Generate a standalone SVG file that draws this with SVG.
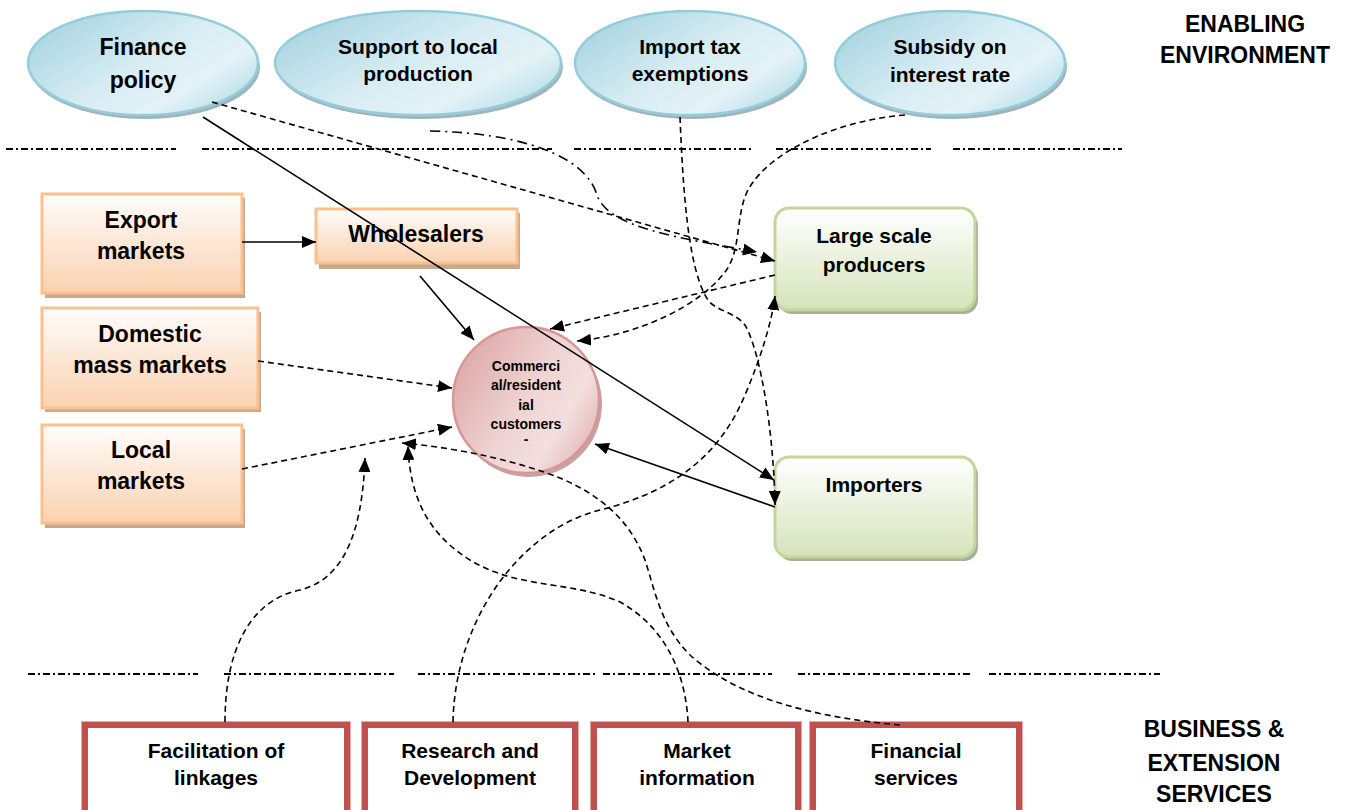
<svg xmlns="http://www.w3.org/2000/svg" width="1351" height="810" viewBox="0 0 1351 810">
  <defs>
    <linearGradient id="blueFill" x1="0" y1="0.15" x2="1" y2="0.85">
      <stop offset="0" stop-color="#a4d3e0"/>
      <stop offset="0.5" stop-color="#d8edf3"/>
      <stop offset="0.75" stop-color="#e3f2f7"/>
      <stop offset="1" stop-color="#b2dbe6"/>
    </linearGradient>
    <linearGradient id="orangeFill" x1="0" y1="0" x2="0" y2="1">
      <stop offset="0" stop-color="#fffdfb"/>
      <stop offset="0.45" stop-color="#fde9d9"/>
      <stop offset="1" stop-color="#fad2b0"/>
    </linearGradient>
    <linearGradient id="greenFill" x1="0" y1="0" x2="0" y2="1">
      <stop offset="0" stop-color="#ffffff"/>
      <stop offset="1" stop-color="#d5e3b9"/>
    </linearGradient>
    <linearGradient id="pinkFill" x1="0" y1="0.2" x2="1" y2="0.8">
      <stop offset="0" stop-color="#dba6a5"/>
      <stop offset="0.5" stop-color="#efd4d3"/>
      <stop offset="0.75" stop-color="#f3dfde"/>
      <stop offset="1" stop-color="#e1b4b3"/>
    </linearGradient>
    <marker id="arrow" markerUnits="userSpaceOnUse" markerWidth="14" markerHeight="12" refX="14" refY="6" orient="auto">
      <path d="M0,0 L14,6 L0,12 z" fill="#000"/>
    </marker>
    <style>
      .lbl { font-family: "Liberation Sans", Arial, sans-serif; font-weight: bold; fill: #000; text-anchor: middle; }
      .f23 { font-size: 23px; }
      .f21 { font-size: 21px; }
      .f14 { font-size: 14px; }
      .sep { stroke: #000; stroke-width: 2; stroke-dasharray: 7 3 2 3; fill: none; }
      .oval { fill: url(#blueFill); stroke: #93cddd; stroke-width: 2.5; }
      .ovalShadow { fill: #a3b4b9; }
      .orange { fill: url(#orangeFill); stroke: #fac090; stroke-width: 3; }
      .orangeShadow { fill: #c9a98d; }
      .green { fill: url(#greenFill); stroke: #c3d69b; stroke-width: 3; }
      .greenShadow { fill: #a9ae9e; }
      .red { fill: #ffffff; stroke: #c0504d; stroke-width: 6; }
      .redEdge { fill: none; stroke: #e3a9a7; stroke-width: 1; }
      .solid { stroke: #000; stroke-width: 1.6; fill: none; }
      .dash { stroke: #000; stroke-width: 1.6; fill: none; stroke-dasharray: 6 4; }
      .dashdot { stroke: #000; stroke-width: 1.6; fill: none; stroke-dasharray: 10 5 2 5; }
    </style>
  </defs>

  <rect width="1351" height="810" fill="#ffffff"/>

  <!-- tier separators -->
  <g id="separators">
    <path class="sep" d="M6,149 H176 M202,149 H552 M574,149 H754 M776,149 H931 M953,149 H1122"/>
    <path class="sep" d="M28,674 H198 M224,674 H394 M418,674 H597 M603,674 H772 M798,674 H970 M989,674 H1160"/>
  </g>

  <!-- tier titles -->
  <g id="title-enabling">
    <text class="lbl f23" x="1245" y="32">ENABLING</text>
    <text class="lbl f23" x="1245" y="63">ENVIRONMENT</text>
  </g>
  <g id="title-business">
    <text class="lbl f23" x="1214" y="737">BUSINESS &amp;</text>
    <text class="lbl f23" x="1214" y="771">EXTENSION</text>
    <text class="lbl f23" x="1214" y="802">SERVICES</text>
  </g>

  <!-- enabling environment ovals -->
  <g id="finance-policy">
    <ellipse class="ovalShadow" cx="145" cy="67" rx="115" ry="52"/>
    <ellipse class="oval" cx="143" cy="63" rx="115" ry="52"/>
    <text class="lbl f23" x="143" y="55">Finance</text>
    <text class="lbl f23" x="143" y="88">policy</text>
  </g>
  <g id="support-local-production">
    <ellipse class="ovalShadow" cx="420" cy="67" rx="143" ry="52"/>
    <ellipse class="oval" cx="418" cy="63" rx="143" ry="52"/>
    <text class="lbl f21" x="418" y="54">Support to local</text>
    <text class="lbl f21" x="418" y="81">production</text>
  </g>
  <g id="import-tax-exemptions">
    <ellipse class="ovalShadow" cx="692" cy="67" rx="115" ry="52"/>
    <ellipse class="oval" cx="690" cy="63" rx="115" ry="52"/>
    <text class="lbl f21" x="690" y="54">Import tax</text>
    <text class="lbl f21" x="690" y="81">exemptions</text>
  </g>
  <g id="subsidy-interest-rate">
    <ellipse class="ovalShadow" cx="952" cy="67" rx="115" ry="52"/>
    <ellipse class="oval" cx="950" cy="63" rx="115" ry="52"/>
    <text class="lbl f21" x="950" y="54">Subsidy on</text>
    <text class="lbl f21" x="950" y="82">interest rate</text>
  </g>

  <!-- markets -->
  <g id="export-markets">
    <rect class="orangeShadow" x="45" y="198" width="200" height="100"/>
    <rect class="orange" x="42" y="194" width="200" height="99"/>
    <text class="lbl f23" x="141" y="228">Export</text>
    <text class="lbl f23" x="141" y="259">markets</text>
  </g>
  <g id="wholesalers">
    <rect class="orangeShadow" x="319" y="213" width="201" height="56"/>
    <rect class="orange" x="316" y="209" width="201" height="54"/>
    <text class="lbl f23" x="416" y="242">Wholesalers</text>
  </g>
  <g id="domestic-mass-markets">
    <rect class="orangeShadow" x="45" y="312" width="216" height="100"/>
    <rect class="orange" x="42" y="308" width="216" height="100"/>
    <text class="lbl f23" x="150" y="342">Domestic</text>
    <text class="lbl f23" x="150" y="373">mass markets</text>
  </g>
  <g id="local-markets">
    <rect class="orangeShadow" x="45" y="429" width="200" height="99"/>
    <rect class="orange" x="42" y="425" width="200" height="98"/>
    <text class="lbl f23" x="141" y="458">Local</text>
    <text class="lbl f23" x="141" y="489">markets</text>
  </g>

  <!-- customers -->
  <g id="customers">
    <circle cx="529" cy="404" r="73" fill="#c4a3a2"/>
    <circle cx="526" cy="400" r="73" fill="url(#pinkFill)" stroke="#d99694" stroke-width="2.5"/>
    <text class="lbl f14" x="526" y="371">Commerci</text>
    <text class="lbl f14" x="526" y="390">al/resident</text>
    <text class="lbl f14" x="526" y="410">ial</text>
    <text class="lbl f14" x="526" y="429">customers</text>
    <text class="lbl f14" x="526" y="444">-</text>
  </g>

  <!-- producers and importers -->
  <g id="large-scale-producers">
    <rect class="greenShadow" x="778" y="212" width="200" height="102" rx="14"/>
    <rect class="green" x="775" y="208" width="200" height="102" rx="14"/>
    <text class="lbl f21" x="874" y="243">Large scale</text>
    <text class="lbl f21" x="874" y="272">producers</text>
  </g>
  <g id="importers">
    <rect class="greenShadow" x="778" y="461" width="200" height="100" rx="14"/>
    <rect class="green" x="775" y="457" width="200" height="100" rx="14"/>
    <text class="lbl f21" x="874" y="492">Importers</text>
  </g>

  <!-- business and extension services -->
  <g id="facilitation-of-linkages">
    <rect class="redEdge" x="81.5" y="721.5" width="269" height="110"/>
    <rect class="red" x="85" y="725" width="262" height="110"/>
    <text class="lbl f21" x="216" y="758">Facilitation of</text>
    <text class="lbl f21" x="216" y="785">linkages</text>
  </g>
  <g id="research-and-development">
    <rect class="redEdge" x="361.5" y="721.5" width="217" height="110"/>
    <rect class="red" x="365" y="725" width="210" height="110"/>
    <text class="lbl f21" x="470" y="758">Research and</text>
    <text class="lbl f21" x="470" y="785">Development</text>
  </g>
  <g id="market-information">
    <rect class="redEdge" x="590.5" y="721.5" width="211" height="110"/>
    <rect class="red" x="594" y="725" width="204" height="110"/>
    <text class="lbl f21" x="697" y="758">Market</text>
    <text class="lbl f21" x="697" y="785">information</text>
  </g>
  <g id="financial-services">
    <rect class="redEdge" x="809.5" y="721.5" width="213" height="110"/>
    <rect class="red" x="813" y="725" width="206" height="110"/>
    <text class="lbl f21" x="916" y="758">Financial</text>
    <text class="lbl f21" x="916" y="785">services</text>
  </g>

  <!-- connectors -->
  <g id="connectors">
    <!-- solid flows -->
    <path class="solid" d="M242,242 L316,242" marker-end="url(#arrow)"/>
    <path class="solid" d="M420,276 L474,340" marker-end="url(#arrow)"/>
    <path class="solid" d="M203,117 L774,480" marker-end="url(#arrow)"/>
    <path class="solid" d="M775,507 L595,444" marker-end="url(#arrow)"/>

    <!-- policy influences -->
    <path class="dash" d="M212,102 L775,261" marker-end="url(#arrow)"/>
    <path class="dashdot" d="M430,131 C520,133 585,155 597,195 C608,228 680,238 757,252" marker-end="url(#arrow)"/>
    <path class="dash" d="M680,117 C683,190 688,270 708,300 C716,311 735,312 745,325 C762,355 774,440 775,505" marker-end="url(#arrow)"/>
    <path class="dash" d="M905,115 C840,120 770,150 748,190 C735,215 742,250 725,272 C700,305 640,335 577,341" marker-end="url(#arrow)"/>

    <!-- market flows into customers -->
    <path class="dash" d="M775,275 L550,329" marker-end="url(#arrow)"/>
    <path class="dash" d="M258,361 L452,388" marker-end="url(#arrow)"/>
    <path class="dash" d="M242,469 L452,427" marker-end="url(#arrow)"/>

    <!-- service links -->
    <path class="dash" d="M225,722 C225,650 250,600 300,590 C340,580 362,540 365,458" marker-end="url(#arrow)"/>
    <path class="dash" d="M453,722 C455,620 520,530 600,510 C680,490 722,450 745,395 C762,355 772,320 775,296" marker-end="url(#arrow)"/>
    <path class="dash" d="M688,722 C686,680 670,630 620,602 C570,580 520,590 470,560 C430,535 410,500 408,446" marker-end="url(#arrow)"/>
    <path class="dash" d="M900,725 C820,718 740,700 690,655 C660,625 655,590 645,560 C630,520 600,495 560,478 C520,462 460,448 402,443" marker-end="url(#arrow)"/>
  </g>
</svg>
